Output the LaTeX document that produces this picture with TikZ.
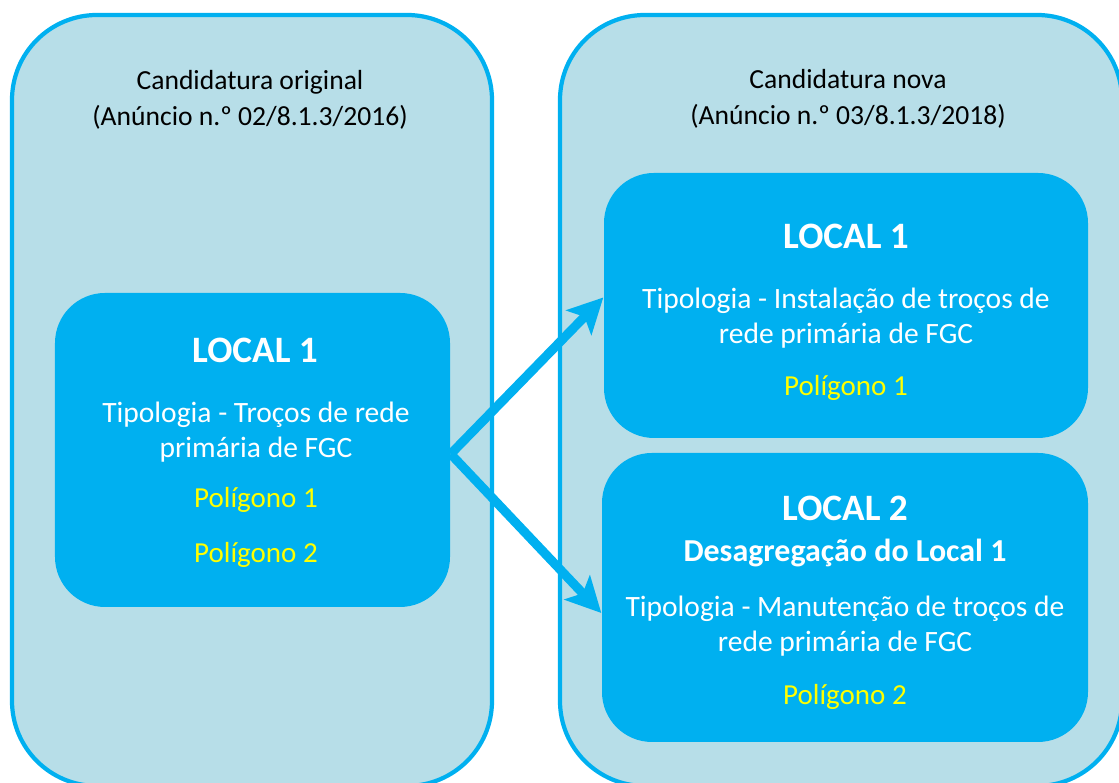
\documentclass[tikz,border=0pt]{standalone}
\usepackage{fontspec}
\setmainfont{Carlito}
\usetikzlibrary{positioning,arrows.meta}
\definecolor{hblue}{HTML}{00B0F0}
\definecolor{hlight}{HTML}{B7DEE8}
\definecolor{hyellow}{HTML}{FFFF00}

\begin{document}
\begin{tikzpicture}

                  % Picture frame (outer boxes run past the lower and right edges)
                  \useasboundingbox (0,0) rectangle (11.19,7.83);
                  \clip (0,0) rectangle (11.19,7.83);

                  \tikzset{
                        outerbox/.style = {draw=hblue, line width=1.2pt, fill=hlight, rounded corners=0.85cm},
                        innerbox/.style = {fill=hblue, rounded corners=0.5cm, inner sep=0pt},
                        headtxt/.style = {align=center, font=\fontsize{7.85}{10.1}\selectfont},
                        bodytxt/.style = {align=center, text=white, font=\fontsize{8.4}{10}\selectfont},
                        localtxt/.style = {text=white, font=\fontsize{10.6}{12}\selectfont\bfseries},
                        polytxt/.style = {text=hyellow, font=\fontsize{8.25}{10}\selectfont},
                        arrowline/.style = {hblue, line width=2.6pt, -{Stealth[length=3.5mm, width=3.5mm, inset=0.8mm]}}
                  };

                  % Outer boxes
                  \draw[outerbox] (0.12,-0.03) rectangle (4.92,7.68);
                  \draw[outerbox] (5.60,-0.03) rectangle (11.22,7.68);

                  % Headers
                  \node[headtxt] (hdorig) at (2.50,6.83) {Candidatura original\\(Anúncio n.º 02/8.1.3/2016)};
                  \node[headtxt] (hdnew) at (8.48,6.84) {Candidatura nova\\(Anúncio n.º 03/8.1.3/2018)};

                  % Inner boxes
                  \node[innerbox, minimum width=3.95cm, minimum height=3.14cm] (orig) at (2.525,3.33) {};
                  \node[innerbox, minimum width=4.84cm, minimum height=2.65cm] (newone) at (8.46,4.775) {};
                  \node[innerbox, minimum width=4.86cm, minimum height=2.89cm] (newtwo) at (8.45,1.855) {};

                  % Original candidature: Local 1
                  \node[localtxt] (origloc) at (2.55,4.33) {LOCAL 1};
                  \node[bodytxt] (origtip) at (2.56,3.51) {Tipologia - Troços de rede\\primária de FGC};
                  \node[polytxt] (origpa) at (2.56,2.83) {Polígono 1};
                  \node[polytxt] (origpb) at (2.56,2.28) {Polígono 2};

                  % New candidature: Local 1
                  \node[localtxt] (oneloc) at (8.46,5.47) {LOCAL 1};
                  \node[bodytxt] (onetip) at (8.46,4.65) {Tipologia - Instalação de troços de\\rede primária de FGC};
                  \node[polytxt] (onepa) at (8.46,3.95) {Polígono 1};

                  % New candidature: Local 2
                  \node[localtxt] (twoloc) at (8.45,2.75) {LOCAL 2};
                  \node[bodytxt, font=\fontsize{9.1}{11}\selectfont\bfseries] (twodes) at (8.45,2.30) {Desagregação do Local 1};
                  \node[bodytxt] (twotip) at (8.45,1.565) {Tipologia - Manutenção de troços de\\rede primária de FGC};
                  \node[polytxt] (twopb) at (8.45,0.86) {Polígono 2};

                  % Arrows from the original local to the new ones
                  \foreach \dst/\dy in {newone/0.08, newtwo/-0.155} {
                        \draw[arrowline] ([yshift=-0.04cm]orig.east) -- ([yshift=\dy cm]\dst.west);
                  }

\end{tikzpicture}
\end{document}
